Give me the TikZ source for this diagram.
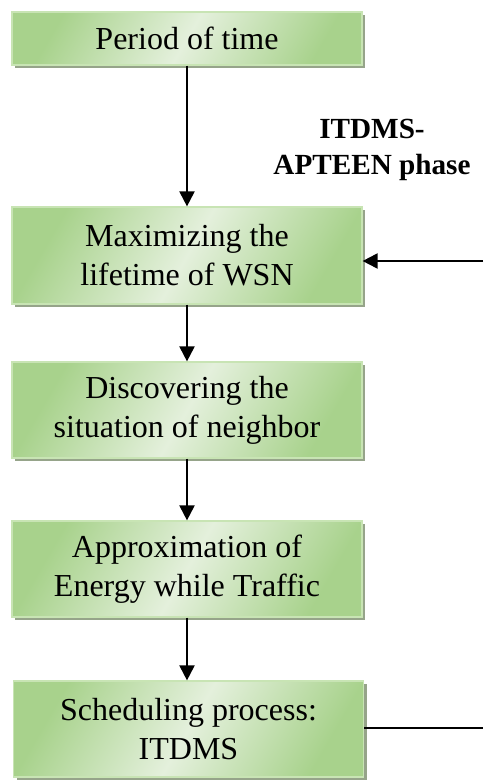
\documentclass[tikz,border=0pt]{standalone}
\usepackage{fontspec}
\setmainfont{Liberation Serif}
\usetikzlibrary{arrows.meta,shadows}
\definecolor{boxgreen}{RGB}{168,210,140}
\definecolor{boxlight}{RGB}{228,240,220}
\definecolor{boxline}{RGB}{200,228,180}
\definecolor{boxshadow}{RGB}{150,164,138}

\begin{document}
\begin{tikzpicture}[x=0.5pt,y=-0.5pt,
        >={Triangle[width=7.5pt,length=7.5pt]},
        every node/.style = {align=center, font=\fontsize{16}{19.5}\selectfont},
        stage/.style = {rectangle, draw=boxline, line width=0.6pt,
            minimum width=175pt, inner sep=0pt,
            left color=boxgreen, right color=boxgreen, middle color=boxlight,
            shading angle=60,
            drop shadow={shadow xshift=1.6pt, shadow yshift=-1.6pt,
                fill=boxshadow, opacity=1}},
        link/.style = {->, line width=1pt}]
        \useasboundingbox (0,0) rectangle (483,781);
        \node[stage, minimum height=26.5pt] (time) at (187,38.5) {Period of time};
        \node[stage, minimum height=48.5pt] (life) at (187,255.5)
            {Maximizing the\\lifetime of WSN};
        \node[stage, minimum height=48pt] (neigh) at (187,410)
            {Discovering the\\situation of neighbor};
        \node[stage, minimum height=48pt] (energy) at (187,569)
            {Approximation of\\Energy while Traffic};
        \node[stage, minimum height=48pt] (sched) at (188.5,729)
            {Scheduling process:\\ITDMS};
        \node[font=\bfseries\fontsize{14.6}{18}\selectfont] (phase) at (372,150)
            {ITDMS-\\APTEEN phase};
        \coordinate (back) at (483,261);
        \coordinate (away) at (483,728);
        \draw[link] (time) -- (life);
        \draw[link] (life) -- (neigh);
        \draw[link] (neigh) -- (energy);
        \draw[link] (energy.south) -- (energy.south |- sched.north);
        \draw[link] (back) -- (back -| life.east);
        \draw[line width=1pt] (sched.east |- away) -- (away);
    \end{tikzpicture}
\end{document}
